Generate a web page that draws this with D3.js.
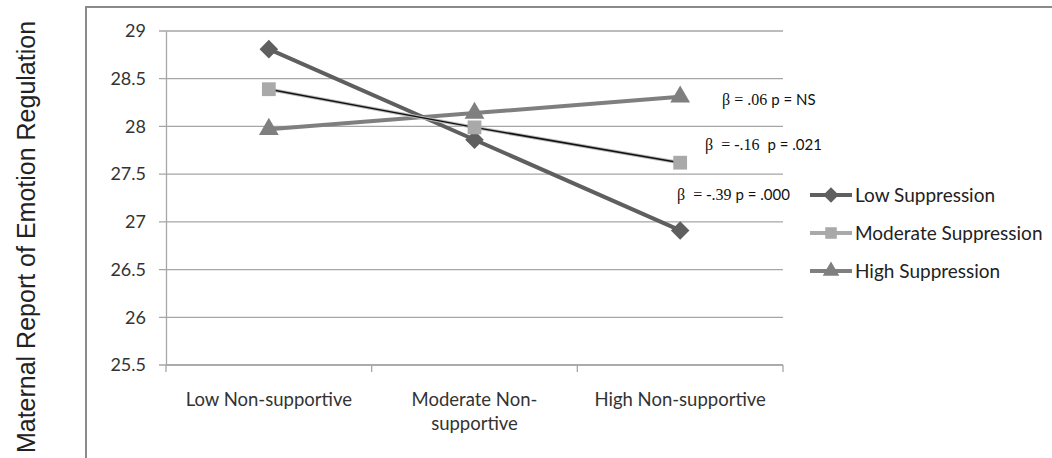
<!DOCTYPE html>
<html>
<head>
<meta charset="utf-8">
<script src="https://cdn.jsdelivr.net/npm/d3@7"></script>
<style>
  body { margin: 0; background: #fff; }
  svg { display: block; }
</style>
</head>
<body>
<div id="chart"></div>
<script>
const categories = ["Low Non-supportive", "Moderate Non-supportive", "High Non-supportive"];
const categoryLines = [["Low Non-supportive"], ["Moderate Non-", "supportive"], ["High Non-supportive"]];
const lowSuppression = [28.81, 27.86, 26.91];
const moderateSuppression = [28.39, 27.99, 27.62];
const highSuppression = [27.97, 28.14, 28.31];
const seriesNames = ["Low Suppression", "Moderate Suppression", "High Suppression"];
const yTicks = [25.5, 26, 26.5, 27, 27.5, 28, 28.5, 29];
const annotations = [
  { beta: "\u03b2 = .06", p: "p = NS", series: 2 },
  { beta: "\u03b2  = -.16 ", p: "p = .021", series: 1 },
  { beta: "\u03b2  = -.39", p: "p = .000", series: 0 }
];

const W = 1052, H = 458;
const plot = { left: 166, right: 783, top: 31, bottom: 365 };
const sans = "Lato, 'Open Sans', sans-serif";

const svg = d3.select("#chart").append("svg")
  .attr("width", W).attr("height", H);

// outer frame
svg.append("rect")
  .attr("x", 86).attr("y", 7)
  .attr("width", 1000).attr("height", 500)
  .attr("fill", "none").attr("stroke", "#8a8a8a").attr("stroke-width", 2);

const x = d3.scaleBand().domain(categories).range([plot.left, plot.right]);
const y = d3.scaleLinear().domain([25.5, 29]).range([plot.bottom, plot.top]);

// gridlines
svg.append("g").selectAll("line")
  .data(yTicks).join("line")
  .attr("x1", plot.left - 7).attr("x2", plot.right)
  .attr("y1", d => y(d)).attr("y2", d => y(d))
  .attr("stroke", "#a6a6a6").attr("stroke-width", 1.3);

// y axis
const gY = svg.append("g")
  .attr("transform", `translate(${plot.left},0)`)
  .call(d3.axisLeft(y).tickValues(yTicks).tickSize(0).tickPadding(20).tickFormat(d3.format("")));
gY.select(".domain").attr("stroke", "#a6a6a6").attr("stroke-width", 1.3);
gY.selectAll("text")
  .attr("font-family", sans)
  .attr("font-size", 18).attr("fill", "#333");

// x axis
const gX = svg.append("g")
  .attr("transform", `translate(0,${plot.bottom})`)
  .call(d3.axisBottom(x).tickSize(0).tickFormat(""));
gX.select(".domain").remove();
svg.append("line")
  .attr("x1", plot.left).attr("x2", plot.right)
  .attr("y1", plot.bottom).attr("y2", plot.bottom)
  .attr("stroke", "#a6a6a6").attr("stroke-width", 1.3);
const bounds = categories.map(c => x(c)).concat([plot.right]);
svg.append("g").selectAll("line")
  .data(bounds).join("line")
  .attr("x1", d => d).attr("x2", d => d)
  .attr("y1", plot.bottom).attr("y2", plot.bottom + 7)
  .attr("stroke", "#a6a6a6").attr("stroke-width", 1.3);

const catLabels = svg.append("g").selectAll("text")
  .data(categories).join("text")
  .attr("x", d => x(d) + x.bandwidth() / 2)
  .attr("y", plot.bottom + 41)
  .attr("text-anchor", "middle")
  .attr("font-family", sans)
  .attr("font-size", 18.5).attr("fill", "#333");
catLabels.each(function(d, i) {
  d3.select(this).selectAll("tspan")
    .data(categoryLines[i]).join("tspan")
    .attr("x", x(d) + x.bandwidth() / 2)
    .attr("dy", (t, j) => j === 0 ? 0 : 24)
    .text(t => t);
});

// y title
svg.append("text")
  .attr("transform", `translate(35,237) rotate(-90)`)
  .attr("text-anchor", "middle")
  .attr("font-family", "'Liberation Sans', Arial, sans-serif")
  .attr("font-size", 25).attr("fill", "#222")
  .text("Maternal Report of Emotion Regulation");

const cx = d => x(d) + x.bandwidth() / 2;
const line = d3.line().x((v, i) => cx(categories[i])).y(v => y(v));

const series = [
  { name: seriesNames[0], values: lowSuppression, color: "#5f5f5f", width: 4, symbol: d3.symbolDiamond2 || d3.symbolDiamond, size: 220, mcolor: "#5f5f5f" },
  { name: seriesNames[1], values: moderateSuppression, color: "#111", width: 1.5, symbol: d3.symbolSquare, size: 190, mcolor: "#a9a9a9" },
  { name: seriesNames[2], values: highSuppression, color: "#7f7f7f", width: 4, symbol: d3.symbolTriangle, size: 170, mcolor: "#7f7f7f" }
];

// draw in order: high, low, moderate on top
[series[2], series[0], series[1]].forEach(s => {
  if (s.name === seriesNames[1]) {
    svg.append("path").datum(s.values)
      .attr("fill", "none").attr("stroke", "#bbb").attr("stroke-width", 3.5).attr("d", line);
  }
  svg.append("path").datum(s.values)
    .attr("fill", "none").attr("stroke", s.color).attr("stroke-width", s.width).attr("d", line);
  svg.append("g").selectAll("path")
    .data(s.values).join("path")
    .attr("transform", (v, i) => `translate(${cx(categories[i])},${y(v)})`)
    .attr("d", d3.symbol().type(s.symbol).size(s.size))
    .attr("fill", s.mcolor);
});

// annotations
const annPos = [
  { x: 722, y: 105 },
  { x: 705, y: 150 },
  { x: 677, y: 200 }
];
annotations.forEach((a, i) => {
  const t = svg.append("text")
    .attr("x", annPos[i].x).attr("y", annPos[i].y)
    .attr("font-size", 15).attr("fill", "#111")
    .attr("xml:space", "preserve");
  t.append("tspan").attr("font-family", "'Liberation Serif', 'Times New Roman', serif")
    .attr("font-size", 16).text(a.beta + " ");
  t.append("tspan").attr("font-family", sans).text(a.p);
});

// legend
const legend = svg.append("g");
series.forEach((s, i) => {
  const ly = 195 + i * 38;
  legend.append("line")
    .attr("x1", 810).attr("x2", 852).attr("y1", ly).attr("y2", ly)
    .attr("stroke", s.name === seriesNames[1] ? "#a9a9a9" : s.color)
    .attr("stroke-width", 4);
  legend.append("path")
    .attr("transform", `translate(831,${ly})`)
    .attr("d", d3.symbol().type(s.symbol).size(s.size * 0.7))
    .attr("fill", s.mcolor);
  legend.append("text")
    .attr("x", 855).attr("y", ly + 7)
    .attr("font-family", sans)
    .attr("font-size", 19).attr("fill", "#222")
    .text(s.name);
});
</script>
</body>
</html>
